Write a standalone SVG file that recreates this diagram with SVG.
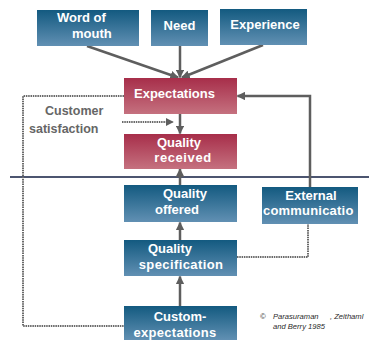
<svg xmlns="http://www.w3.org/2000/svg" width="377" height="340" viewBox="0 0 377 340">
  <defs>
    <linearGradient id="blueFill" x1="0" y1="0" x2="0" y2="1">
      <stop offset="0" stop-color="#135a80"/>
      <stop offset="1" stop-color="#6190b3"/>
    </linearGradient>
    <linearGradient id="redFill" x1="0" y1="0" x2="0" y2="1">
      <stop offset="0" stop-color="#a72e4a"/>
      <stop offset="1" stop-color="#c5717f"/>
    </linearGradient>
    <marker id="arrow" viewBox="0 0 10 10" refX="9" refY="5" markerWidth="3.4" markerHeight="3.4" orient="auto" markerUnits="strokeWidth">
      <path d="M0,0 L10,5 L0,10 z" fill="#5e5e5e"/>
    </marker>
    <marker id="arrowSmall" viewBox="0 0 10 10" refX="9" refY="5" markerWidth="4" markerHeight="4" orient="auto" markerUnits="strokeWidth">
      <path d="M0,0 L10,5 L0,10 z" fill="#5e5e5e"/>
    </marker>
  </defs>
  <style>
    .blue { fill: url(#blueFill); }
    .red { fill: url(#redFill); }
    .label { font-family: "Liberation Sans", Arial, sans-serif; font-weight: bold; font-size: 13px; fill: #ffffff; }
    .side { font-family: "Liberation Sans", Arial, sans-serif; font-weight: bold; font-size: 12.5px; fill: #666666; }
    .credit { font-family: "Liberation Sans", Arial, sans-serif; font-style: italic; font-size: 7.6px; fill: #2a2a2a; }
    .conn { fill: none; stroke: #5e5e5e; stroke-width: 2.5; }
    .dash { fill: none; stroke: #6a6a6a; stroke-width: 2; stroke-dasharray: 1.5 0.8; }
  </style>

  <!-- divider -->
  <line x1="10" y1="177" x2="369" y2="177" stroke="#4c5570" stroke-width="2.2"/>

  <g id="connectors">
    <line class="conn" x1="87" y1="46" x2="178" y2="77.5" marker-end="url(#arrow)"/>
    <line class="conn" x1="180" y1="46" x2="180" y2="77.5" marker-end="url(#arrow)"/>
    <line class="conn" x1="263" y1="45" x2="182" y2="77.5" marker-end="url(#arrow)"/>
    <line class="conn" x1="180" y1="114" x2="180" y2="133.5" marker-end="url(#arrow)"/>
    <line class="conn" x1="180" y1="185" x2="180" y2="169" marker-end="url(#arrow)"/>
    <line class="conn" x1="180" y1="240" x2="180" y2="222.5" marker-end="url(#arrow)"/>
    <line class="conn" x1="180" y1="306" x2="180" y2="276.5" marker-end="url(#arrow)"/>
    <polyline class="conn" points="310,187 310,96 237.5,96" marker-end="url(#arrow)"/>
    <polyline class="dash" points="124,96 23,96 23,326 124,326"/>
    <polyline class="dash" points="237,257 308,257 308,224"/>
    <line class="dash" x1="122" y1="122" x2="173" y2="122" marker-end="url(#arrowSmall)"/>
  </g>

  <g id="word-of-mouth">
    <rect class="blue" x="37" y="10" width="102" height="36"/>
    <text class="label" x="57" y="22">Word of</text>
    <text class="label" x="72" y="38">mouth</text>
  </g>
  <g id="need">
    <rect class="blue" x="151" y="10" width="57" height="36"/>
    <text class="label" x="179.5" y="30" text-anchor="middle">Need</text>
  </g>
  <g id="experience">
    <rect class="blue" x="220" y="9" width="87" height="36"/>
    <text class="label" x="265" y="29" text-anchor="middle">Experience</text>
  </g>
  <g id="expectations">
    <rect class="red" x="124" y="78" width="113" height="36"/>
    <text class="label" x="134" y="98">Expectations</text>
  </g>
  <g id="quality-received">
    <rect class="red" x="124" y="134" width="113" height="35"/>
    <text class="label" x="179" y="147" text-anchor="middle">Quality</text>
    <text class="label" x="183" y="162" text-anchor="middle" letter-spacing="0.6">received</text>
  </g>
  <g id="quality-offered">
    <rect class="blue" x="124" y="185" width="113" height="37"/>
    <text class="label" x="185" y="198" text-anchor="middle">Quality</text>
    <text class="label" x="177" y="214" text-anchor="middle">offered</text>
  </g>
  <g id="external-communication">
    <rect class="blue" x="262" y="187" width="96" height="37"/>
    <text class="label" x="311" y="200" text-anchor="middle">External</text>
    <text class="label" x="263" y="215" letter-spacing="0.2">communicatio</text>
  </g>
  <g id="quality-specification">
    <rect class="blue" x="124" y="240" width="113" height="36"/>
    <text class="label" x="170" y="253" text-anchor="middle">Quality</text>
    <text class="label" x="181" y="269" text-anchor="middle" letter-spacing="0.4">specification</text>
  </g>
  <g id="customer-expectations">
    <rect class="blue" x="124" y="306" width="113" height="34"/>
    <text class="label" x="180" y="321" text-anchor="middle">Custom-</text>
    <text class="label" x="175" y="337" text-anchor="middle" letter-spacing="0.3">expectations</text>
  </g>

  <g id="customer-satisfaction">
    <text class="side" x="45" y="115">Customer</text>
    <text class="side" x="29" y="133">satisfaction</text>
  </g>

  <g id="credit">
    <text class="credit" x="260" y="319">©</text>
    <text class="credit" x="273" y="319">Parasuraman</text>
    <text class="credit" x="330" y="319">, Zeithaml</text>
    <text class="credit" x="273" y="329">and Berry 1985</text>
  </g>
</svg>
